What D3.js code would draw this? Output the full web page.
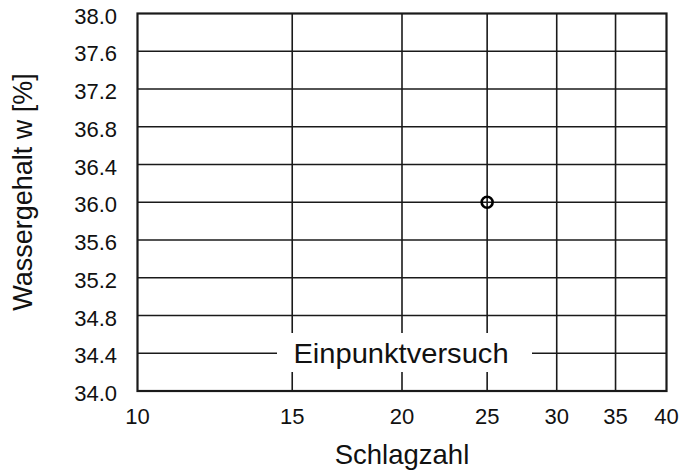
<!DOCTYPE html>
<html><head><meta charset="utf-8">
<script src="https://cdn.jsdelivr.net/npm/d3@7"></script>
<style>body{margin:0;background:#fff}svg{display:block}text{font-family:"Liberation Sans",Arial,sans-serif;fill:#111}</style>
</head><body><div id="c"></div>
<script>
const blows = [25];
const water = [36.0];
const xTicks = [10, 15, 20, 25, 30, 35, 40];
const yTicks = [34.0, 34.4, 34.8, 35.2, 35.6, 36.0, 36.4, 36.8, 37.2, 37.6, 38.0];
const xTitle = "Schlagzahl";
const yTitle = "Wassergehalt w [%]";
const note = "Einpunktversuch";

const W = 680, H = 473;
const m = {l: 137.5, r: 666.5, t: 13.5, b: 391};
const svg = d3.select("#c").append("svg").attr("width", W).attr("height", H);
const x = d3.scaleLog().domain([10, 40]).range([m.l, m.r]);
const y = d3.scaleLinear().domain([34, 38]).range([m.b, m.t]);
const ink = "#1a1a1a";

// grid
svg.append("g").selectAll("line").data(yTicks.slice(1, -1)).join("line")
  .attr("x1", m.l).attr("x2", m.r).attr("y1", d => y(d)).attr("y2", d => y(d))
  .attr("stroke", ink).attr("stroke-width", 1.6);
svg.append("g").selectAll("line").data(xTicks.slice(1, -1)).join("line")
  .attr("y1", m.t).attr("y2", m.b).attr("x1", d => x(d)).attr("x2", d => x(d))
  .attr("stroke", ink).attr("stroke-width", 1.6);

// note box
const nb = svg.append("g");
nb.append("rect").attr("x", 277).attr("y", 333).attr("width", 255).attr("height", 39).attr("fill", "#fff");
nb.append("text").attr("x", 401).attr("y", 363).attr("text-anchor", "middle")
  .attr("font-size", 28).attr("transform", "translate(401,0) scale(1.04,1) translate(-401,0)").text(note);

// frame
svg.append("rect").attr("x", m.l).attr("y", m.t).attr("width", m.r - m.l).attr("height", m.b - m.t)
  .attr("fill", "none").attr("stroke", ink).attr("stroke-width", 2.2);

// tick labels
svg.append("g").selectAll("text").data(yTicks).join("text")
  .attr("x", 117).attr("y", d => y(d) + 10).attr("text-anchor", "end").attr("font-size", 22)
  .text(d => d.toFixed(1));
svg.append("g").selectAll("text").data(xTicks).join("text")
  .attr("x", d => x(d)).attr("y", 424).attr("text-anchor", "middle").attr("font-size", 22)
  .text(d => d);

// titles
svg.append("text").attr("x", 402).attr("y", 464).attr("text-anchor", "middle").attr("font-size", 27.5).text(xTitle);
svg.append("text").attr("transform", "translate(32,192) rotate(-90)").attr("text-anchor", "middle").attr("font-size", 27).text(yTitle);

// points
svg.append("g").selectAll("circle").data(blows).join("circle")
  .attr("cx", (d, i) => x(d)).attr("cy", (d, i) => y(water[i])).attr("r", 5.5)
  .attr("fill", "none").attr("stroke", "#000").attr("stroke-width", 2.6);
</script></body></html>
